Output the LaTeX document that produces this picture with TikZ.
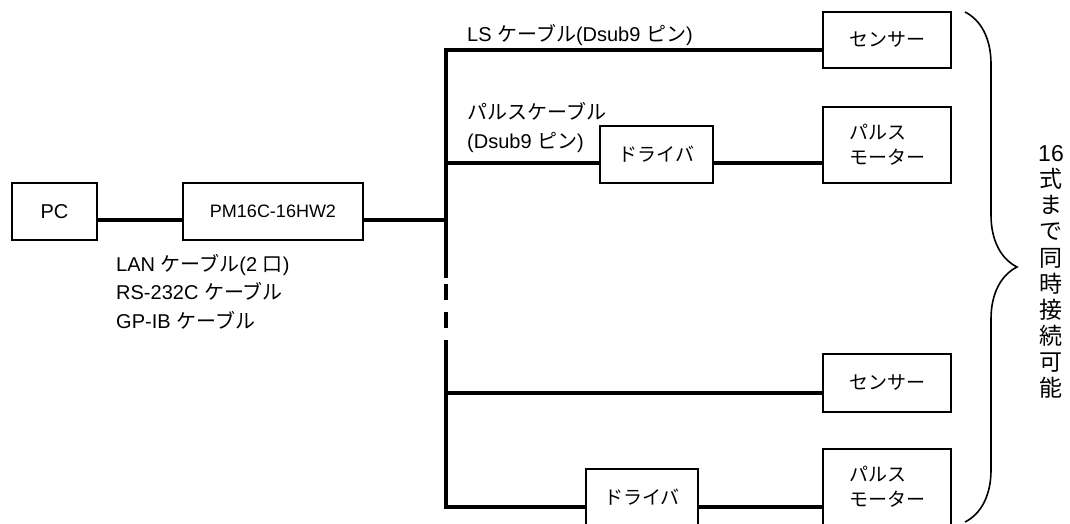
\documentclass[tikz,border=0pt]{standalone}
\usepackage{fontspec}
\setmainfont{Liberation Sans}
\newfontfamily\jp{Noto Sans CJK JP}
\usetikzlibrary{positioning,calc,decorations.pathreplacing}

\begin{document}
\begin{tikzpicture}[x=1pt,y=-1pt,
	box/.style={draw, line width=1.6pt, inner sep=0pt, font=\fontsize{19}{25}\selectfont},
	wire/.style={line width=4pt},
	lbl/.style={anchor=west, inner sep=0pt, align=left, font=\fontsize{20}{29}\selectfont}]

\useasboundingbox (0,0) rectangle (1070,524);

%Boxes
\node[box, minimum width=85pt, minimum height=57pt, font=\fontsize{20}{24}\selectfont] (pc) at (54.5,211.5) {PC};
\node[box, minimum width=180pt, minimum height=57pt, font=\fontsize{18}{22}\selectfont] (pm) at (273,211.5) {PM16C-16HW2};
\node[box, minimum width=128pt, minimum height=56pt] (sensA) at (887,40) {\jp センサー};
\node[box, minimum width=113pt, minimum height=57pt] (drvA) at (656.5,154.5) {\jp ドライバ};
\node[box, minimum width=128pt, minimum height=76pt, align=left] (motA) at (887,145) {\jp パルス\\\jp モーター};
\node[box, minimum width=128pt, minimum height=58pt] (sensB) at (887,383) {\jp センサー};
\node[box, minimum width=112pt, minimum height=57pt] (drvB) at (642,497.5) {\jp ドライバ};
\node[box, minimum width=128pt, minimum height=76pt, align=left] (motB) at (887,487) {\jp パルス\\\jp モーター};

%Bus and branches
\coordinate (link) at (446,220);
\coordinate (top) at (446,50);
\coordinate (jA) at (446,163);
\coordinate (jB) at (446,393);
\coordinate (bot) at (446,507);
\coordinate (gapA) at (446,278);
\coordinate (gapB) at (446,340);

\draw[wire] (pc.east |- link) -- (pm.west |- link);
\draw[wire] (pm.east |- link) -- (link);
\draw[wire] (sensA.west |- top) -- (top) -- (gapA);
\draw[wire, dash pattern=on 16pt off 12pt] ($(gapA)+(0,6)$) -- (gapB);
\draw[wire] (gapB) -- (bot) -- (drvB.west |- bot);
\draw[wire] (drvB.east |- bot) -- (motB.west |- bot);
\draw[wire] (jA) -- (drvA.west |- jA);
\draw[wire] (drvA.east |- jA) -- (motA.west |- jA);
\draw[wire] (jB) -- (sensB.west |- jB);

%Cable labels
\node[lbl] (lsA) at (467,35) {LS {\jp ケーブル}(Dsub9 {\jp ピン})};
\node[lbl] (plA) at (467,127.5) {{\jp パルスケーブル}\\(Dsub9 {\jp ピン})};
\node[lbl, font=\fontsize{20}{28.5}\selectfont] (lan) at (116,291.5)
	{LAN {\jp ケーブル}(2 {\jp 口})\\RS-232C {\jp ケーブル}\\GP-IB {\jp ケーブル}};

%Brace and note
\draw[line width=1.6pt, decorate, decoration={brace, amplitude=52pt}] (965,12) -- (965,522);
\node[inner sep=0pt, align=center, font=\fontsize{23}{26.1}\selectfont] (note) at (1051,272)
	{16\\\jp 式\\\jp ま\\\jp で\\\jp 同\\\jp 時\\\jp 接\\\jp 続\\\jp 可\\\jp 能};

\end{tikzpicture}
\end{document}
